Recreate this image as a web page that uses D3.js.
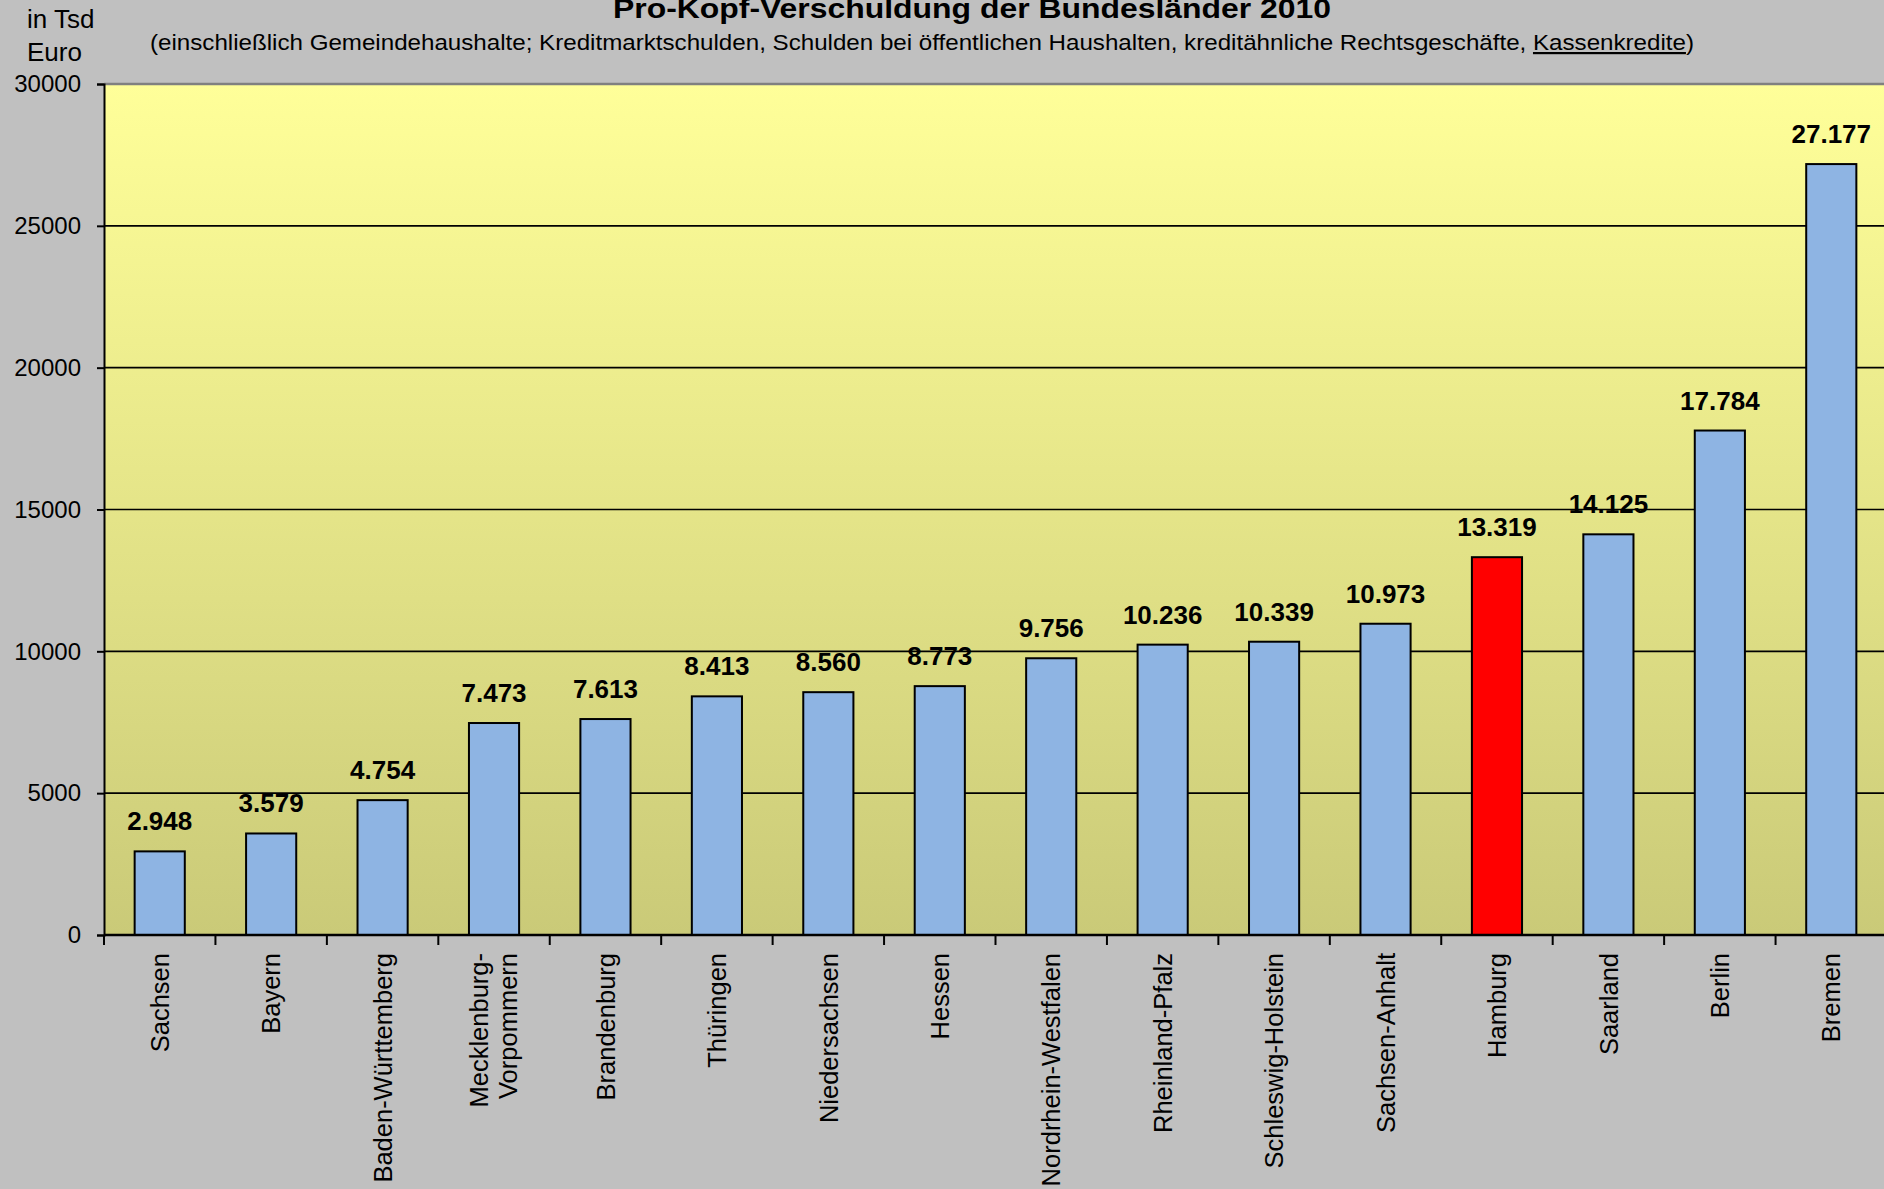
<!DOCTYPE html>
<html>
<head>
<meta charset="utf-8">
<script src="https://cdn.jsdelivr.net/npm/d3@7"></script>
<style>
  html, body { margin: 0; padding: 0; background: #c0c0c0; }
  svg { display: block; font-family: "Liberation Sans", Arial, sans-serif; }
</style>
</head>
<body>
<div id="chart"></div>
<script>
// Pro-Kopf-Verschuldung der Bundesländer 2010 (Euro je Einwohner)
const states = ['Sachsen', 'Bayern', 'Baden-Württemberg', 'Mecklenburg-Vorpommern', 'Brandenburg',
    'Thüringen', 'Niedersachsen', 'Hessen', 'Nordrhein-Westfalen', 'Rheinland-Pfalz',
    'Schleswig-Holstein', 'Sachsen-Anhalt', 'Hamburg', 'Saarland', 'Berlin', 'Bremen'];
const debtPerHead = [2948, 3579, 4754, 7473, 7613, 8413, 8560, 8773, 9756, 10236,
    10339, 10973, 13319, 14125, 17784, 27177];
const yTicks = [0, 5000, 10000, 15000, 20000, 25000, 30000];
const highlight = 'Hamburg';

const titleText = 'Pro-Kopf-Verschuldung der Bundesländer 2010';
const subtitleParts = ['(einschließlich Gemeindehaushalte; Kreditmarktschulden, Schulden bei öffentlichen Haushalten, kreditähnliche Rechtsgeschäfte, ', 'Kassenkredite', ')'];
const unitLines = ['in Tsd', 'Euro'];

const data = states.map((s, i) => ({ state: s, value: debtPerHead[i] }));

const width = 1884, height = 1189;
const margin = { top: 84, bottom: 254, left: 104 };
const plotBottom = height - margin.bottom;
const plotRight = 1887; // the plot runs a little past the picture's right edge

const de = d3.formatLocale({ decimal: ',', thousands: '.', grouping: [3], currency: ['', '€'] });
const fmt = de.format(',');

const svg = d3.select('#chart').append('svg')
    .attr('width', width)
    .attr('height', height);

svg.append('rect')
    .attr('width', width).attr('height', height)
    .attr('fill', '#c0c0c0');

const grad = svg.append('defs').append('linearGradient')
    .attr('id', 'plotbg')
    .attr('x1', 0).attr('y1', 0).attr('x2', 0).attr('y2', 1);
grad.append('stop').attr('offset', '0%').attr('stop-color', '#ffff99');
grad.append('stop').attr('offset', '100%').attr('stop-color', '#caca78');

const x = d3.scaleBand()
    .domain(states)
    .range([margin.left, plotRight])
    .paddingInner(0.55)
    .paddingOuter(0.275);

const y = d3.scaleLinear()
    .domain([0, 30000])
    .range([plotBottom, margin.top]);

// plot background
svg.append('rect')
    .attr('x', margin.left)
    .attr('y', y(30000))
    .attr('width', width - margin.left)
    .attr('height', y(0) - y(30000))
    .attr('fill', 'url(#plotbg)');

// top border
svg.append('line')
    .attr('x1', margin.left).attr('x2', width)
    .attr('y1', y(30000)).attr('y2', y(30000))
    .attr('stroke', '#808080')
    .attr('stroke-width', 2.5);

// gridlines
svg.append('g')
    .selectAll('line')
    .data(yTicks.filter(t => t > 0 && t < 30000))
    .enter()
    .append('line')
    .attr('x1', margin.left).attr('x2', width)
    .attr('y1', d => y(d)).attr('y2', d => y(d))
    .attr('stroke', '#000')
    .attr('stroke-width', 1.6);

// y axis
const yAxis = svg.append('g')
    .attr('transform', `translate(${margin.left},0)`)
    .call(d3.axisLeft(y).tickValues(yTicks).tickSize(7).tickPadding(16).tickFormat(d3.format('d')));
yAxis.select('.domain').attr('stroke', '#000').attr('stroke-width', 2);
yAxis.selectAll('.tick line').attr('stroke', '#000').attr('stroke-width', 2);
yAxis.selectAll('.tick text')
    .attr('fill', '#000')
    .style('font-size', '24px')
    .style('font-family', '"Liberation Sans", Arial, sans-serif');

// bars
svg.append('g')
    .selectAll('rect')
    .data(data)
    .enter()
    .append('rect')
    .attr('x', d => x(d.state))
    .attr('y', d => y(d.value))
    .attr('width', x.bandwidth())
    .attr('height', d => y(0) - y(d.value))
    .attr('fill', d => d.state === highlight ? '#ff0000' : '#8eb4e3')
    .attr('stroke', '#000')
    .attr('stroke-width', 2);

// x axis line and ticks at band boundaries
svg.append('line')
    .attr('x1', margin.left).attr('x2', width)
    .attr('y1', y(0)).attr('y2', y(0))
    .attr('stroke', '#000')
    .attr('stroke-width', 2.5);

svg.append('g')
    .selectAll('line')
    .data(d3.range(states.length + 1))
    .enter()
    .append('line')
    .attr('x1', i => margin.left + i * x.step())
    .attr('x2', i => margin.left + i * x.step())
    .attr('y1', y(0))
    .attr('y2', y(0) + 10)
    .attr('stroke', '#000')
    .attr('stroke-width', 2);

// category labels (rotated)
const labels = svg.append('g')
    .selectAll('text')
    .data(data)
    .enter()
    .append('text')
    .attr('transform', d => `translate(${x(d.state) + x.bandwidth() / 2},${y(0) + 18}) rotate(-90)`)
    .attr('text-anchor', 'end')
    .attr('fill', '#000')
    .style('font-size', '25.5px');

labels.each(function(d) {
    const t = d3.select(this);
    if (d.state === 'Mecklenburg-Vorpommern') {
        t.append('tspan').attr('x', 0).attr('dy', '-0.22em').text('Mecklenburg-');
        t.append('tspan').attr('x', 0).attr('dy', '1.12em').text('Vorpommern');
    } else {
        t.append('tspan').attr('x', 0).attr('dy', '0.36em').text(d.state);
    }
});

// value labels
svg.append('g')
    .selectAll('text')
    .data(data)
    .enter()
    .append('text')
    .attr('x', d => x(d.state) + x.bandwidth() / 2)
    .attr('y', d => y(d.value) - 21)
    .attr('text-anchor', 'middle')
    .attr('fill', '#000')
    .style('font-size', '26px')
    .style('font-weight', 'bold')
    .text(d => fmt(d.value));

// title
svg.append('text')
    .attr('x', 613)
    .attr('y', 18)
    .attr('textLength', 718)
    .attr('lengthAdjust', 'spacingAndGlyphs')
    .style('font-size', '28px')
    .style('font-weight', 'bold')
    .attr('fill', '#000')
    .text(titleText);

const sub = svg.append('text')
    .attr('x', 150)
    .attr('y', 50)
    .attr('textLength', 1544)
    .attr('lengthAdjust', 'spacingAndGlyphs')
    .style('font-size', '22px')
    .attr('fill', '#000');
sub.append('tspan').text(subtitleParts[0]);
sub.append('tspan').style('text-decoration', 'underline').text(subtitleParts[1]);
sub.append('tspan').text(subtitleParts[2]);

// unit label
svg.append('g')
    .selectAll('text')
    .data(unitLines)
    .enter()
    .append('text')
    .attr('x', 27)
    .attr('y', (d, i) => 28 + i * 33)
    .attr('fill', '#000')
    .style('font-size', '26px')
    .text(d => d);
</script>
</body>
</html>
